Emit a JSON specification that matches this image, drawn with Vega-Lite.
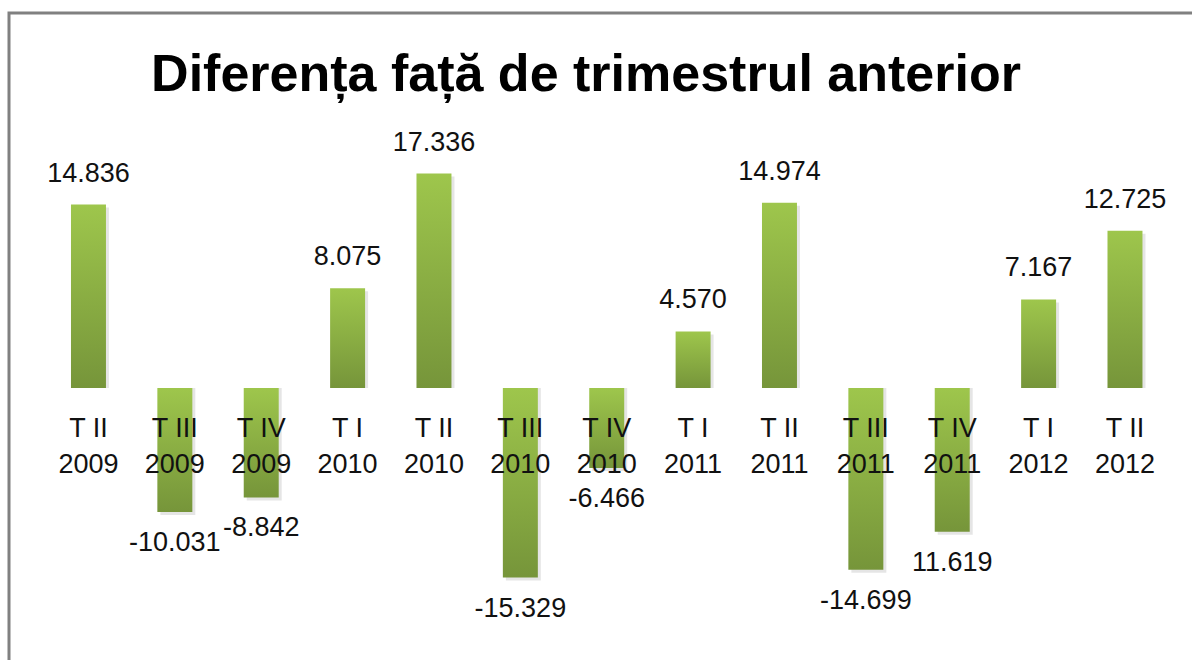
{
  "$schema": "https://vega.github.io/schema/vega-lite/v6.json",
  "width": 1190,
  "height": 660,
  "autosize": {"type": "none"},
  "padding": {"left": 9, "top": 13, "right": 0, "bottom": 0},
  "background": "white",
  "title": {
    "text": "Diferența față de trimestrul anterior",
    "font": "Liberation Sans",
    "fontSize": 52,
    "fontWeight": "bold",
    "color": "black",
    "anchor": "middle",
    "frame": "group",
    "baseline": "alphabetic",
    "offset": -130,
    "dx": -18
  },
  "config": {
    "view": {"stroke": "#808080", "strokeWidth": 3},
    "text": {"font": "Liberation Sans", "fontSize": 27, "color": "#111111"}
  },
  "data": {
    "values": [
      {"id": "T II 2009", "q": "T II", "yr": "2009", "v": 14.836, "label": "14.836"},
      {"id": "T III 2009", "q": "T III", "yr": "2009", "v": -10.031, "label": "-10.031"},
      {"id": "T IV 2009", "q": "T IV", "yr": "2009", "v": -8.842, "label": "-8.842"},
      {"id": "T I 2010", "q": "T I", "yr": "2010", "v": 8.075, "label": "8.075"},
      {"id": "T II 2010", "q": "T II", "yr": "2010", "v": 17.336, "label": "17.336"},
      {"id": "T III 2010", "q": "T III", "yr": "2010", "v": -15.329, "label": "-15.329"},
      {"id": "T IV 2010", "q": "T IV", "yr": "2010", "v": -6.466, "label": "-6.466"},
      {"id": "T I 2011", "q": "T I", "yr": "2011", "v": 4.570, "label": "4.570"},
      {"id": "T II 2011", "q": "T II", "yr": "2011", "v": 14.974, "label": "14.974"},
      {"id": "T III 2011", "q": "T III", "yr": "2011", "v": -14.699, "label": "-14.699"},
      {"id": "T IV 2011", "q": "T IV", "yr": "2011", "v": -11.619, "label": "11.619"},
      {"id": "T I 2012", "q": "T I", "yr": "2012", "v": 7.167, "label": "7.167"},
      {"id": "T II 2012", "q": "T II", "yr": "2012", "v": 12.725, "label": "12.725"}
    ]
  },
  "encoding": {
    "x": {
      "field": "id",
      "type": "nominal",
      "sort": null,
      "axis": null,
      "scale": {"paddingInner": 0.595, "paddingOuter": 0.686, "align": 0.523}
    }
  },
  "layer": [
    {
      "mark": {"type": "bar", "color": "#000000", "opacity": 0.1, "xOffset": 3, "yOffset": 3},
      "encoding": {
        "y": {"field": "v", "type": "quantitative", "axis": null, "scale": {"domain": [-23.04, 30.32], "nice": false, "zero": false}},
        "y2": {"datum": 0}
      }
    },
    {
      "mark": {
        "type": "bar",
        "color": {
          "gradient": "linear",
          "x1": 0, "y1": 0, "x2": 0, "y2": 1,
          "stops": [
            {"offset": 0, "color": "#9ec64c"},
            {"offset": 1, "color": "#76953a"}
          ]
        }
      },
      "encoding": {
        "y": {"field": "v", "type": "quantitative"},
        "y2": {"datum": 0}
      }
    },
    {
      "transform": [{"filter": "datum.v >= 0"}],
      "mark": {"type": "text", "baseline": "middle", "dy": -31},
      "encoding": {
        "y": {"field": "v", "type": "quantitative"},
        "text": {"field": "label"}
      }
    },
    {
      "transform": [{"filter": "datum.v < 0"}],
      "mark": {"type": "text", "baseline": "middle", "dy": 31},
      "encoding": {
        "y": {"field": "v", "type": "quantitative"},
        "text": {"field": "label"}
      }
    },
    {
      "mark": {"type": "text", "baseline": "alphabetic", "dy": 49},
      "encoding": {
        "y": {"datum": 0},
        "text": {"field": "q"}
      }
    },
    {
      "mark": {"type": "text", "baseline": "alphabetic", "dy": 85},
      "encoding": {
        "y": {"datum": 0},
        "text": {"field": "yr"}
      }
    }
  ]
}
